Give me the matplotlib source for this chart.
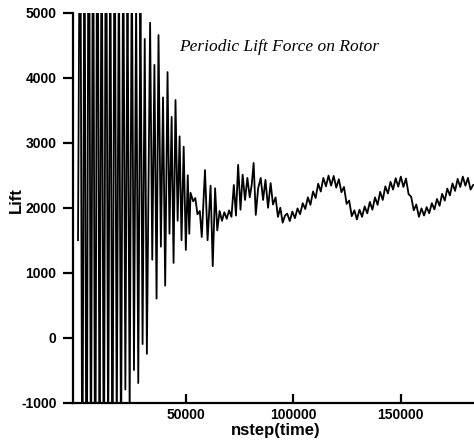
import matplotlib
matplotlib.use('Agg')
import matplotlib.pyplot as plt

# ---- data (nstep, Lift) ----
early_x = [0, 1000, 2000, 3000, 4000, 5000, 6000, 7000, 8000, 9000,
           10000, 11000, 12000, 13000, 14000, 15000, 16000, 17000, 18000, 19000,
           20000, 21000, 22000, 23000, 24000, 25000, 26000, 27000, 28000, 29000,
           30000, 31000, 32000, 33500, 34500, 35500, 36500, 37400, 38500, 39500,
           40500, 41600, 42500, 43500, 44400, 45300, 46300, 47200, 48100, 49100,
           50100, 51000, 51700]
early_y = [1500, 8000, -3000, 7000, -4000, 9000, -2500, 7500, -3500, 8500,
           -2000, 7000, -3000, 8000, -1800, 6500, -2600, 7200, -1500, 6000,
           -2000, 6500, -800, 5600, -1200, 6000, -500, 5200, -700, 5300,
           -100, 4600, -250, 4850, 1200, 4200, 600, 4660, 1400, 3700,
           800, 4090, 1600, 3400, 1150, 3660, 1800, 3100, 1500, 2940,
           1350, 2500, 1600]

mid_x = [52300, 53500, 54500, 55500, 56600, 57500, 59000, 60200, 61600, 62600,
         63700, 64700, 65800, 66900, 68000, 69100, 70200, 71300, 72400, 73400,
         74400, 75500, 76500, 77600, 78700, 79800, 80700, 81600, 82600, 83700,
         84900, 86000, 87100, 88300, 89500, 90600, 91800, 92900, 94000, 95100,
         96200]
mid_y = [2230, 2100, 2150, 1900, 1950, 1550, 2580, 1500, 2340, 1100,
         2300, 1650, 1950, 1800, 1930, 1830, 1960, 1860, 2350, 1880,
         2660, 1970, 2510, 2120, 2460, 2160, 2350, 2690, 1890, 2300,
         2460, 2120, 2430, 2000, 2380, 2050, 2160, 1860, 2000, 1770,
         1880]

late_x = [97200, 98400, 99600, 100800, 102000, 103200, 104400, 105600, 106800, 108000,
          109200, 110400, 111600, 112800, 114000, 115200, 116400, 117600, 118800, 120000,
          121200, 122400, 123600, 124800, 126000, 127200, 128400, 129600, 130800, 132000,
          133200, 134400, 135600, 136800, 138000, 139200, 140400, 141600, 142800, 144000,
          145200, 146400, 147600, 148800, 150000, 151200, 152400, 153600, 154800, 156000,
          157200, 158400, 159600, 160800, 162000, 163200, 164400, 165600, 166800, 168000,
          169200, 170400, 171600, 172800, 174000, 175200, 176400, 177600, 178800, 180000,
          181200, 182400, 183600]
late_y = [1910, 1795, 1940, 1840, 1990, 1900, 2070, 1980, 2160, 2045,
          2250, 2150, 2370, 2250, 2460, 2330, 2495, 2340, 2490, 2310,
          2440, 2240, 2320, 2060, 2110, 1870, 1960, 1820, 1970, 1860,
          2020, 1915, 2090, 1970, 2160, 2045, 2245, 2120, 2330, 2220,
          2400, 2280, 2455, 2325, 2480, 2320, 2450, 2210, 2170, 1960,
          2050, 1860, 1990, 1880, 2010, 1915, 2070, 1975, 2135, 2030,
          2215, 2110, 2295, 2190, 2375, 2260, 2445, 2320, 2480, 2340,
          2460, 2280, 2350]

x_ticks = [50000, 100000, 150000]
x_ticklabels = ['50000', '100000', '150000']
y_ticks = [-1000, 0, 1000, 2000, 3000, 4000, 5000]
y_ticklabels = ['-1000', '0', '1000', '2000', '3000', '4000', '5000']

title = 'Periodic Lift Force on Rotor'
xlabel = 'nstep(time)'
ylabel = 'Lift'

# ---- figure ----
plt.rcParams['font.family'] = ['Liberation Sans', 'DejaVu Sans']
W, H = 474, 444
fig = plt.figure(figsize=(W / 100, H / 100), dpi=100)
ax = fig.add_axes([72.5 / W, 1 - 402.5 / H, (W - 72.5) / W, (402.5 - 13) / H])

xs = early_x + mid_x + late_x
ys = early_y + mid_y + late_y
ax.plot(xs, ys, color='black', lw=1.3)

ax.set_xlim(-2560, 184000)
ax.set_ylim(-1000, 5000)

for s in ('top', 'right'):
    ax.spines[s].set_visible(False)
for s in ('left', 'bottom'):
    ax.spines[s].set_linewidth(1.6)

ax.set_xticks(x_ticks)
ax.set_xticklabels(x_ticklabels)
ax.set_yticks(y_ticks)
ax.set_yticklabels(y_ticklabels)
ax.tick_params(axis='y', direction='out', length=7, width=1.6, pad=4.5, labelsize=10)
ax.tick_params(axis='x', direction='in', length=6.5, width=1.6, pad=4, labelsize=10)
for lbl in ax.get_xticklabels() + ax.get_yticklabels():
    lbl.set_fontweight('bold')

ax.set_xlabel(xlabel, fontsize=12, fontweight='bold', va='center')
ax.xaxis.set_label_coords((276 - 72.5) / (W - 72.5), (402.5 - 430) / (402.5 - 13))
ax.set_ylabel(ylabel, fontsize=12, fontweight='bold', va='center', ha='center')
ax.yaxis.set_label_coords((16 - 72.5) / (W - 72.5), (402.5 - 200) / (402.5 - 13))

fig.text(279 / W, 1 - 47 / H, title, family='Liberation Serif', style='italic',
         fontsize=12.5, ha='center', va='center')

fig.savefig('out.png', dpi=100)
